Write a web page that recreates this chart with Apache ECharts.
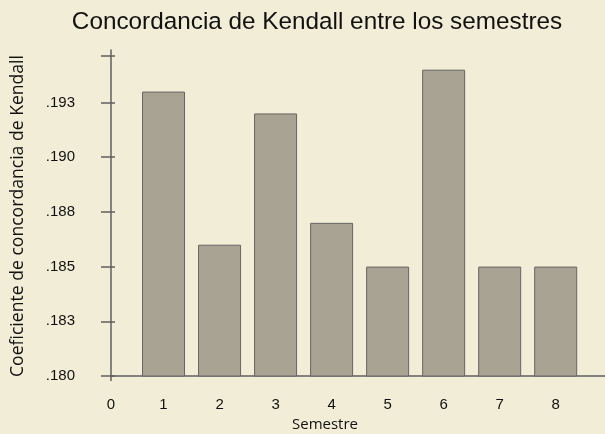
<!DOCTYPE html>
<html><head><meta charset="utf-8">
<script src="https://cdn.jsdelivr.net/npm/echarts@6/dist/echarts.min.js"></script>
<style>html,body{margin:0;padding:0;background:#f1edd6}#c{width:605px;height:434px}</style>
</head><body><div id="c"></div>
<script>
const semestres = [1, 2, 3, 4, 5, 6, 7, 8];
const kendall = [0.1930, 0.1860, 0.1920, 0.1870, 0.1850, 0.1940, 0.1850, 0.1850];
const yTickValues = [0.180, 0.1825, 0.185, 0.1875, 0.190, 0.1925];
const yTickLabels = ['.180', '.183', '.185', '.188', '.190', '.193'];
const yTopTick = 0.19466;
const xMin = 0.0625, xMax = 8.88;
const xTickValues = [xMin, 1, 2, 3, 4, 5, 6, 7, 8];
const xTickLabels = ['0', '1', '2', '3', '4', '5', '6', '7', '8'];
const titleText = 'Concordancia de Kendall entre los semestres';
const yName = 'Coeficiente de concordancia de Kendall';
const xName = 'Semestre';

const chart = echarts.init(document.getElementById('c'));
const axisColor = '#5f5f5f';
const yMin = 0.180, yMax = 0.1949;
chart.setOption({
  backgroundColor: '#f1edd6',
  animation: false,
  grid: { left: 111, right: 0, top: 50, bottom: 58, outerBoundsMode: 'none', containLabel: false },
  graphic: [
    { type: 'text', x: 317, y: 22, style: { text: titleText, textAlign: 'center', textVerticalAlign: 'middle', font: '24.3px "Liberation Sans", Arial, sans-serif', fill: '#111' } },
    { type: 'text', x: 325, y: 425, style: { text: xName, textAlign: 'center', textVerticalAlign: 'middle', font: '15px "Open Sans", sans-serif', fill: '#111' } },
    { type: 'text', x: 18, y: 216, rotation: Math.PI / 2, style: { text: yName, textAlign: 'center', textVerticalAlign: 'middle', font: '17.6px "Open Sans", sans-serif', fill: '#111' } }
  ],
  xAxis: {
    type: 'value', min: xMin, max: xMax,
    splitLine: { show: false },
    axisLine: { show: true, lineStyle: { color: axisColor, width: 1.5 } },
    axisTick: { show: true, customValues: [xMin], length: 5, lineStyle: { color: axisColor, width: 1.5 } },
    axisLabel: {
      customValues: xTickValues, margin: 21,
      formatter: v => xTickLabels[xTickValues.findIndex(t => Math.abs(t - v) < 1e-6)],
      color: '#111', fontSize: 15, fontFamily: '"Liberation Sans", Arial, sans-serif'
    }
  },
  yAxis: [{
    type: 'value', min: yMin, max: yMax, position: 'left',
    splitLine: { show: false },
    axisLine: { show: true, lineStyle: { color: axisColor, width: 1.5 } },
    axisTick: { show: true, customValues: yTickValues.concat([yTopTick]), length: 10, lineStyle: { color: axisColor, width: 1.5 } },
    axisLabel: {
      customValues: yTickValues, margin: 36,
      formatter: v => yTickLabels[yTickValues.findIndex(t => Math.abs(t - v) < 1e-7)],
      color: '#111', fontSize: 15, fontFamily: '"Liberation Sans", Arial, sans-serif'
    }
  }, {
    type: 'value', min: yMin, max: yMax, position: 'left',
    splitLine: { show: false },
    axisLine: { show: false },
    axisTick: { show: true, inside: true, customValues: yTickValues.concat([yTopTick]), length: 4, lineStyle: { color: axisColor, width: 1.5 } },
    axisLabel: { show: false }
  }],
  series: [{
    type: 'bar',
    data: semestres.map((s, i) => [s, kendall[i]]),
    barWidth: 43,
    itemStyle: { color: '#a9a393', borderColor: '#666', borderWidth: 1 }
  }]
});
</script></body></html>
